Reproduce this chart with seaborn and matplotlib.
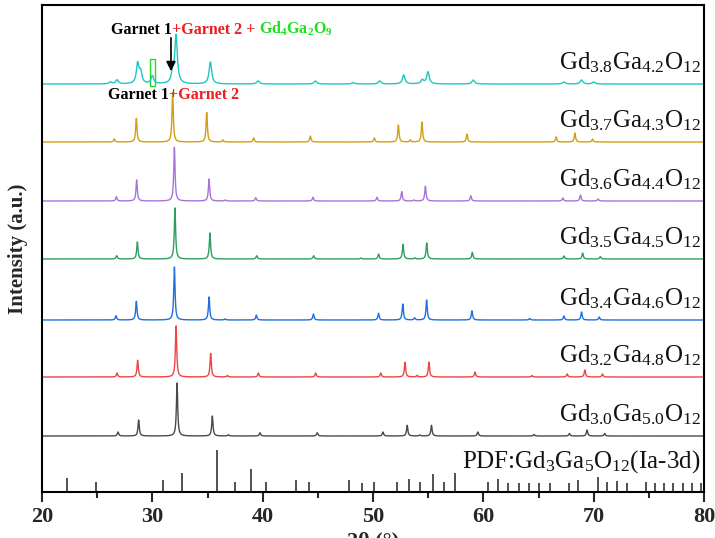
import numpy as np
import pandas as pd
import matplotlib
matplotlib.use("Agg")
import matplotlib.pyplot as plt
import matplotlib.transforms as mtransforms
from matplotlib.patches import Rectangle
import seaborn as sns

# ---- data ----
# samples from bottom to top
samples = [
    "Gd$_{3.0}$Ga$_{5.0}$O$_{12}$",
    "Gd$_{3.2}$Ga$_{4.8}$O$_{12}$",
    "Gd$_{3.4}$Ga$_{4.6}$O$_{12}$",
    "Gd$_{3.5}$Ga$_{4.5}$O$_{12}$",
    "Gd$_{3.6}$Ga$_{4.4}$O$_{12}$",
    "Gd$_{3.7}$Ga$_{4.3}$O$_{12}$",
    "Gd$_{3.8}$Ga$_{4.2}$O$_{12}$",
]
colors = ["#4a4a4a", "#ee4444", "#1f6fe0", "#2e9e62", "#a874dc", "#d49e10", "#1fc6c6"]
offsets = [56, 115, 172, 233, 291, 350, 408]

# peak positions (2theta) and heights (a.u.) for each pattern
pos_30 = [26.89, 28.76, 32.24, 35.44, 36.9, 39.76, 44.95, 50.9, 53.1, 54.24, 55.3, 59.5, 64.6, 67.8, 69.4, 71.0]
hgt_30 = [4, 16, 53, 20, 1.2, 3.3, 3.3, 4, 10.7, 1, 10.7, 4, 1.5, 2.5, 6, 2.5]
pos_32 = [26.8, 28.67, 32.15, 35.29, 36.8, 39.61, 44.8, 50.7, 52.9, 54.0, 55.07, 59.25, 64.4, 67.6, 69.2, 70.8]
hgt_32 = [4, 17, 52, 24, 1.5, 4, 4, 4, 14.7, 1.5, 15, 5, 1.5, 3, 7, 3]
pos_34 = [26.71, 28.55, 32.0, 35.14, 36.6, 39.43, 44.6, 50.5, 52.7, 53.77, 54.86, 58.97, 64.2, 67.3, 68.9, 70.5]
hgt_34 = [4.3, 19, 53, 23, 1, 5, 6, 6.7, 16, 2, 20, 9.3, 1.5, 4, 8, 3]
pos_35 = [26.77, 28.64, 32.05, 35.22, 39.46, 44.62, 48.9, 50.51, 52.72, 53.78, 54.87, 59.0, 67.3, 69.0, 70.6]
hgt_35 = [3.3, 17, 52, 26, 3.3, 3.3, 1, 5, 14.7, 1, 16.3, 6.7, 3, 6, 2.5]
pos_36 = [26.74, 28.58, 32.0, 35.14, 36.6, 39.37, 44.56, 50.36, 52.6, 53.69, 54.75, 58.86, 67.2, 68.8, 70.4]
hgt_36 = [4.3, 21, 53.7, 22, 1, 3.3, 3.7, 3.7, 9.3, 1, 15, 5.3, 3, 6, 2]
pos_37 = [26.55, 28.55, 31.84, 34.93, 36.4, 39.19, 44.32, 50.12, 52.3, 53.38, 54.44, 58.52, 66.6, 68.3, 69.9]
hgt_37 = [3, 24, 50, 30, 2, 4, 6, 4, 17, 2, 20, 8, 5, 9, 3]
pos_38 = [26.2, 26.8, 28.67, 28.94, 30.0, 31.84, 32.15, 35.26, 39.58, 44.77, 48.2, 50.6, 52.78, 54.47, 54.98, 59.09, 67.3, 68.9, 70.0]
hgt_38 = [2, 4, 20, 11, 8, 10, 48, 22, 3, 3, 1.5, 3, 9, 4, 12, 4, 2, 4, 2]

peak_pos = [pos_30, pos_32, pos_34, pos_35, pos_36, pos_37, pos_38]
peak_hgt = [hgt_30, hgt_32, hgt_34, hgt_35, hgt_36, hgt_37, hgt_38]
peak_hwhm = [0.07, 0.07, 0.07, 0.07, 0.07, 0.07, 0.14]

# reference card PDF Gd3Ga5O12 (Ia-3d): positions and relative intensity (%)
pdf_pos = [22.3, 24.9, 31.0, 32.7, 35.9, 37.5, 38.9, 40.3, 43.0, 44.2, 47.8, 49.0, 50.1,
           52.2, 53.3, 54.3, 55.4, 56.4, 57.4, 60.4, 61.3, 62.2, 63.2, 64.1, 65.0, 66.0,
           67.8, 68.6, 70.4, 71.2, 72.1, 73.0, 74.7, 75.6, 76.4, 77.2, 78.1, 78.9, 79.7]
pdf_int = [34, 25, 28, 45, 100, 23, 54, 24, 28, 24, 28, 22, 23,
           24, 32, 23, 43, 25, 46, 24, 31, 22, 22, 22, 22, 22,
           22, 28, 35, 24, 26, 22, 24, 22, 22, 22, 22, 22, 22]
pdf_scale = 0.42  # a.u. per %

# ---- style ----
sns.set_theme(style="ticks")
plt.rcParams["font.family"] = ["Liberation Serif", "DejaVu Serif"]
plt.rcParams["mathtext.fontset"] = "custom"
plt.rcParams["mathtext.rm"] = "Liberation Serif"
plt.rcParams["mathtext.bf"] = "Liberation Serif:bold"
plt.rcParams["mathtext.default"] = "rm"

fig = plt.figure(figsize=(7.15, 5.38), dpi=100)
ax = fig.add_axes([42 / 715, 46 / 538, 662 / 715, 487 / 538])

two_theta = np.arange(20, 80.001, 0.02)
for lab, col, off, pp, hh, g in zip(samples, colors, offsets, peak_pos, peak_hgt, peak_hwhm):
    y = np.full_like(two_theta, float(off))
    for p, h in zip(pp, hh):
        y += h / (1 + ((two_theta - p) / g) ** 2)
    df = pd.DataFrame({"2theta": two_theta, "I": y})
    sns.lineplot(data=df, x="2theta", y="I", color=col, lw=1.0, estimator=None, ax=ax)
    ax.text(79.7, off + 15, lab, ha="right", va="baseline", fontsize=18, color="#111111")

ax.vlines(pdf_pos, 0, np.array(pdf_int) * pdf_scale, color="#333333", lw=1.2)
ax.text(79.7, 24.7, "PDF:Gd$_{3}$Ga$_{5}$O$_{12}$(Ia-3d)", ha="right", va="baseline",
        fontsize=18, color="#111111")


def rainbow_text(x, y, pieces, **kw):
    renderer = fig.canvas.get_renderer()
    trans = ax.transData
    for s, c in pieces:
        t = ax.text(x, y, s, color=c, transform=trans, va="baseline", **kw)
        ext = t.get_window_extent(renderer)
        trans = mtransforms.offset_copy(t.get_transform(), fig=fig, x=ext.width, units="dots")


green = "#22dd22"
rainbow_text(26.25, 458, [("Garnet 1", "black"), ("+Garnet 2 + ", "#ee1c1c"),
                          (r"Gd$_{\mathbf{4}}$Ga$_{\mathbf{2}}$O$_{\mathbf{9}}$", green)],
             fontsize=11.5, fontweight="bold")
rainbow_text(25.98, 393, [("Garnet 1", "black"), ("+Garnet 2", "#ee1c1c")],
             fontsize=11.5, fontweight="bold")

ax.annotate("", xy=(31.69, 418), xytext=(31.69, 457),
            arrowprops=dict(arrowstyle="-|>", color="black", lw=1.2, mutation_scale=14))
ax.add_patch(Rectangle((29.8, 405.7), 0.47, 27.7, fill=False, edgecolor=green, lw=1.0))

ax.set_xlim(20, 80)
ax.set_ylim(0, 487)
ax.set_yticks([])
ax.set_xticks(range(20, 81, 10))
ax.set_xticks(range(25, 80, 10), minor=True)
ax.tick_params(axis="x", which="major", direction="out", length=7, width=1.5, labelsize=16, pad=4)
ax.tick_params(axis="x", which="minor", direction="out", length=4, width=1.5)
for lbl in ax.get_xticklabels():
    lbl.set_fontweight("bold")
for sp in ax.spines.values():
    sp.set_visible(True)
    sp.set_linewidth(1.5)
    sp.set_color("black")
ax.set_ylabel("Intensity (a.u.)", fontsize=15, fontweight="bold", labelpad=10)
ax.set_xlabel("2θ (°)", fontsize=16, fontweight="bold", labelpad=3)

fig.savefig("out.png", dpi=100)
